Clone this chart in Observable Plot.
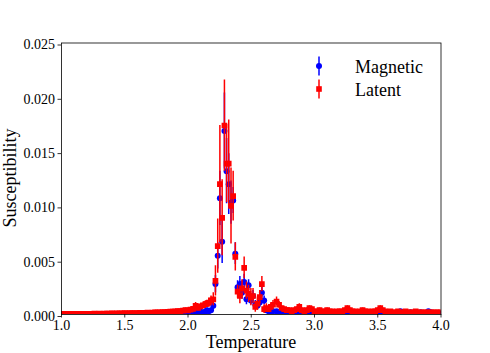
<!DOCTYPE html>
<html><head><meta charset="utf-8">
<script src="https://cdn.jsdelivr.net/npm/d3@7"></script>
<script src="https://cdn.jsdelivr.net/npm/@observablehq/plot@0.6"></script>
<style>body{margin:0;background:#fff;} #chart{width:490px;height:353px;} #chart svg text{font-family:'Liberation Serif','Times New Roman',serif !important;}</style>
</head><body><div id="chart"></div>
<script>
// ---- data ----
const tLow = [1.00,1.02,1.04,1.06,1.08,1.10,1.12,1.14,1.16,1.18,1.20,1.22,1.24,1.26,1.28,1.30,1.32,1.34,1.36,1.38,1.40,1.42,1.44,1.46,1.48,
  1.50,1.52,1.54,1.56,1.58,1.60,1.62,1.64,1.66,1.68,1.70,1.72,1.74,1.76,1.78,1.80,1.82,1.84,1.86,1.88,1.90,1.92,1.94,1.96,1.98,
  2.00,2.02,2.04,2.06,2.08,2.10,2.12,2.14];
const latLow = [0.00004,0.00005,0.00004,0.00006,0.00005,0.00005,0.00006,0.00005,0.00007,0.00006,0.00006,0.00007,0.00006,0.00008,0.00007,0.00008,0.00007,0.00009,0.00008,0.00009,0.00010,0.00009,0.00010,0.00011,0.00010,
  0.00012,0.00011,0.00012,0.00013,0.00012,0.00014,0.00015,0.00014,0.00016,0.00017,0.00016,0.00018,0.00020,0.00019,0.00021,0.00023,0.00022,0.00025,0.00027,0.00026,0.00030,0.00032,0.00031,0.00036,0.00040,
  0.00038,0.00045,0.00052,0.00080,0.00060,0.00075,0.00085,0.00095];
const latErrLow = [0.00002,0.00002,0.00002,0.00002,0.00002,0.00002,0.00002,0.00002,0.00003,0.00003,0.00003,0.00003,0.00003,0.00003,0.00003,0.00004,0.00004,0.00004,0.00004,0.00004,0.00004,0.00005,0.00005,0.00005,0.00005,
  0.00005,0.00005,0.00006,0.00006,0.00006,0.00006,0.00007,0.00007,0.00007,0.00008,0.00008,0.00008,0.00009,0.00009,0.00010,0.00010,0.00010,0.00011,0.00012,0.00012,0.00013,0.00014,0.00014,0.00016,0.00018,
  0.00018,0.00020,0.00022,0.00030,0.00025,0.00028,0.00030,0.00032];
const magLow = [0.00002,0.00002,0.00002,0.00002,0.00002,0.00002,0.00003,0.00002,0.00003,0.00003,0.00003,0.00003,0.00003,0.00003,0.00003,0.00004,0.00003,0.00004,0.00004,0.00004,0.00004,0.00004,0.00004,0.00005,0.00004,
  0.00005,0.00005,0.00005,0.00006,0.00005,0.00006,0.00006,0.00006,0.00007,0.00007,0.00007,0.00008,0.00008,0.00008,0.00009,0.00009,0.00010,0.00010,0.00011,0.00011,0.00012,0.00012,0.00013,0.00014,0.00015,
  0.00014,0.00016,0.00018,0.00020,0.00022,0.00025,0.00020,0.00030];
const magErrLow = [0.00001,0.00001,0.00001,0.00001,0.00001,0.00001,0.00001,0.00001,0.00001,0.00001,0.00001,0.00001,0.00001,0.00001,0.00001,0.00002,0.00002,0.00002,0.00002,0.00002,0.00002,0.00002,0.00002,0.00002,0.00002,
  0.00002,0.00002,0.00002,0.00003,0.00003,0.00003,0.00003,0.00003,0.00003,0.00003,0.00003,0.00004,0.00004,0.00004,0.00004,0.00004,0.00005,0.00005,0.00005,0.00005,0.00006,0.00006,0.00006,0.00007,0.00007,
  0.00007,0.00008,0.00008,0.00009,0.00010,0.00011,0.00010,0.00012];

const tPeak = [2.150,2.165,2.182,2.200,2.217,2.235,2.252,2.270,2.288,2.305,2.322,2.340,2.357,2.374,2.392,2.410,2.427,2.444,2.462,2.479,2.497,2.514,2.532,2.549,2.567,2.584,2.602,2.619,2.637,2.654,2.672];
const latPeak = [0.0010,0.0011,0.0013,0.0014,0.0031,0.0063,0.0120,0.0089,0.0174,0.0139,0.0139,0.0100,0.0109,0.0053,0.0021,0.0017,0.0024,0.0043,0.0022,0.0019,0.0016,0.0017,0.0007,0.0010,0.0016,0.0028,0.0005,0.0006,0.0005,0.0007,0.0009];
const latErrPeak = [0.0003,0.0004,0.0004,0.0006,0.0014,0.0025,0.0054,0.0035,0.0042,0.0036,0.0040,0.0035,0.0023,0.0013,0.0006,0.0007,0.0008,0.0010,0.0008,0.0008,0.0008,0.0007,0.0005,0.0006,0.0006,0.0007,0.0004,0.0004,0.0003,0.0003,0.0004];
const magPeak = [0.0004,0.0003,0.0004,0.0008,0.0028,0.0054,0.0107,0.0067,0.0169,0.0132,0.0120,0.0103,0.0105,0.0056,0.0025,0.0028,0.0020,0.0030,0.0014,0.0027,0.0013,0.0017,0.0009,0.0008,0.0011,0.0020,0.0013,0.0004,0.0003,0.0002,0.0003];
const magErrPeak = [0.0002,0.0002,0.0002,0.0004,0.0008,0.0012,0.0025,0.0020,0.0035,0.0030,0.0028,0.0020,0.0012,0.0010,0.0006,0.0007,0.0006,0.0007,0.0005,0.0005,0.0004,0.0005,0.0004,0.0003,0.0004,0.0005,0.0004,0.0002,0.0002,0.0001,0.0002];

const tHigh = [2.70,2.72,2.74,2.76,2.78,2.80,2.82,2.84,2.86,2.88,2.90,2.92,2.94,2.96,2.98,3.00,3.02,3.04,3.06,3.08,3.10,3.12,3.14,3.16,3.18,3.20,3.22,3.24,3.26,3.28,3.30,3.32,3.34,
  3.36,3.38,3.40,3.42,3.44,3.46,3.48,3.50,3.52,3.54,3.56,3.58,3.60,3.62,3.64,3.66,3.68,3.70,3.72,3.74,3.76,3.78,3.80,3.82,3.84,3.86,3.88,3.90,3.92,3.94,3.96,3.98,4.00];
const latHigh = [0.0012,0.0009,0.0006,0.0005,0.0004,0.0004,0.0003,0.0004,0.0005,0.0007,0.0004,0.0003,0.0004,0.0006,0.0005,0.0003,0.0003,0.0004,0.0003,0.0003,0.0004,0.0003,0.0003,0.0002,0.0003,0.0003,0.0003,0.0004,0.0006,0.0004,0.0003,0.0003,0.0002,
  0.0003,0.0004,0.0003,0.0003,0.0002,0.0003,0.0003,0.0004,0.0006,0.0004,0.0003,0.0002,0.0003,0.0002,0.0002,0.0003,0.0002,0.0002,0.0003,0.0002,0.0002,0.0002,0.0003,0.0002,0.0002,0.0002,0.0002,0.0002,0.0002,0.0002,0.0002,0.0002,0.0002];
const latErrHigh = [0.0004,0.0003,0.0002,0.0002,0.0002,0.0002,0.0001,0.0002,0.0002,0.0003,0.0002,0.0001,0.0002,0.0002,0.0002,0.0001,0.0001,0.0002,0.0001,0.0001,0.0002,0.0001,0.0001,0.0001,0.0001,0.0001,0.0001,0.0002,0.0002,0.0002,0.0001,0.0001,0.0001,
  0.0001,0.0002,0.0001,0.0001,0.0001,0.0001,0.0001,0.0002,0.0002,0.0002,0.0001,0.0001,0.0001,0.0001,0.0001,0.0001,0.0001,0.0001,0.0001,0.0001,0.0001,0.0001,0.0001,0.0001,0.0001,0.0001,0.0001,0.0001,0.0001,0.0001,0.0001,0.0001,0.0001];
const magHigh = [0.0003,0.0002,0.0002,0.0002,0.0002,0.0001,0.0002,0.0001,0.0002,0.0002,0.0001,0.0002,0.0001,0.0002,0.0001,0.0001,0.0002,0.0001,0.0001,0.0002,0.0001,0.0001,0.0001,0.0002,0.0001,0.0001,0.0001,0.0002,0.0001,0.0001,0.0002,0.0001,0.0001,
  0.0001,0.0002,0.0001,0.0001,0.0001,0.0002,0.0001,0.0001,0.0002,0.0001,0.0001,0.0001,0.0002,0.0001,0.0001,0.0002,0.0003,0.0002,0.0001,0.0001,0.0002,0.0001,0.0001,0.0001,0.0002,0.0001,0.0001,0.0003,0.0002,0.0001,0.0001,0.0001,0.0001];
const magErrHigh = [0.0001,0.0001,0.0001,0.0001,0.0001,0.0001,0.0001,0.0001,0.0001,0.0001,0.0001,0.0001,0.0001,0.0001,0.0001,0.0001,0.0001,0.0001,0.0001,0.0001,0.0001,0.0001,0.0001,0.0001,0.0001,0.0001,0.0001,0.0001,0.0001,0.0001,0.0001,0.0001,0.0001,
  0.0001,0.0001,0.0001,0.0001,0.0001,0.0001,0.0001,0.0001,0.0001,0.0001,0.0001,0.0001,0.0001,0.0001,0.0001,0.0001,0.0001,0.0001,0.0001,0.0001,0.0001,0.0001,0.0001,0.0001,0.0001,0.0001,0.0001,0.0001,0.0001,0.0001,0.0001,0.0001,0.0001];

const xTicks = [1.0,1.5,2.0,2.5,3.0,3.5,4.0];
const yTicks = [0.000,0.005,0.010,0.015,0.020,0.025];
const seriesNames = ["Magnetic","Latent"];
const seriesColors = ["#0000ff","#ff0000"];

// ---- assemble ----
const temperature = tLow.concat(tPeak, tHigh);
const magnetic = magLow.concat(magPeak, magHigh);
const magneticErr = magErrLow.concat(magErrPeak, magErrHigh);
const latent = latLow.concat(latPeak, latHigh);
const latentErr = latErrLow.concat(latErrPeak, latErrHigh);
const rows = temperature.map((t, i) => ({t, mag: magnetic[i], magErr: magneticErr[i], lat: latent[i], latErr: latentErr[i]}));

const font = "'Liberation Serif', 'Times New Roman', serif";
const chart = Plot.plot({
  width: 490, height: 353,
  marginLeft: 61, marginRight: 49.5, marginTop: 42.5, marginBottom: 39,
  style: `font-family: ${font}; font-size: 14px; color: #000; background: #fff; overflow: visible;`,
  x: {domain: [1, 4], label: null},
  y: {domain: [0, 0.025], label: null},
  marks: [
    Plot.ruleX(rows, {x: "t", y1: d => d.mag - d.magErr, y2: d => d.mag + d.magErr, stroke: seriesColors[0], strokeWidth: 1.5, clip: true}),
    Plot.dot(rows, {x: "t", y: "mag", r: 3, fill: seriesColors[0], stroke: "none", clip: true}),
    Plot.ruleX(rows, {x: "t", y1: d => d.lat - d.latErr, y2: d => d.lat + d.latErr, stroke: seriesColors[1], strokeWidth: 1.5, clip: true}),
    Plot.dot(rows, {x: "t", y: "lat", symbol: "square", r: 3.2, fill: seriesColors[1], stroke: "none", clip: true}),
    Plot.frame({stroke: "#000", strokeWidth: 0.8}),
    Plot.axisX({ticks: xTicks, tickFormat: d3.format(".1f"), tickSize: 3.5, tickPadding: 2, strokeWidth: 0.8, label: null, fontFamily: font, fontSize: 14}),
    Plot.axisY({ticks: yTicks, tickFormat: d3.format(".3f"), tickSize: 3.5, tickPadding: 3, strokeWidth: 0.8, label: null, fontFamily: font, fontSize: 14, dy: 2})
  ]
});
document.getElementById("chart").appendChild(chart);

// ---- axis titles and legend ----
const svg = d3.select(chart);
svg.append("text").attr("x", 251).attr("y", 348).attr("text-anchor", "middle")
  .attr("font-family", font).attr("font-size", 18).attr("fill", "#000").text("Temperature");
svg.append("text").attr("transform", "translate(16,178) rotate(-90)").attr("text-anchor", "middle")
  .attr("font-family", font).attr("font-size", 18).attr("fill", "#000").text("Susceptibility");

const lg = svg.append("g");
const legY = [66, 89];
seriesNames.forEach((name, i) => {
  const y = legY[i];
  lg.append("line").attr("x1", 319).attr("x2", 319).attr("y1", y - 9.5).attr("y2", y + 9.5)
    .attr("stroke", seriesColors[i]).attr("stroke-width", 1.5);
  if (i === 0) lg.append("circle").attr("cx", 319).attr("cy", y).attr("r", 3).attr("fill", seriesColors[i]);
  else lg.append("rect").attr("x", 316.2).attr("y", y - 2.8).attr("width", 5.6).attr("height", 5.6).attr("fill", seriesColors[i]);
  lg.append("text").attr("x", 355).attr("y", y + 6.5).attr("text-anchor", "start").attr("font-family", font).attr("font-size", 18)
    .attr("fill", "#000").text(name);
});
svg.selectAll("text").style("font-family", font);
</script>
</body></html>
